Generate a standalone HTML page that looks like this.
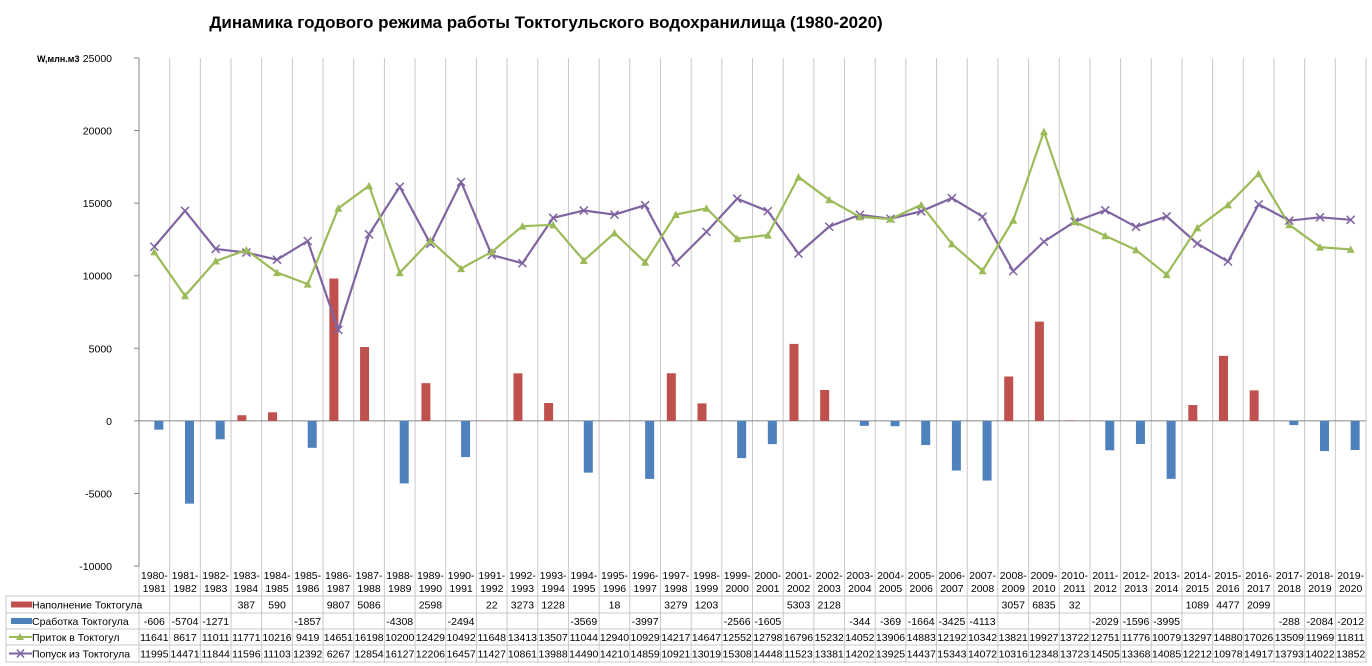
<!DOCTYPE html>
<html><head><meta charset="utf-8"><style>
body{margin:0;background:#fff;}
svg{display:block;font-family:"Liberation Sans",sans-serif;}
</style></head><body>
<svg id="c" width="1372" height="666"></svg>
<script>
const categories=["1980-1981","1981-1982","1982-1983","1983-1984","1984-1985","1985-1986","1986-1987","1987-1988","1988-1989","1989-1990","1990-1991","1991-1992","1992-1993","1993-1994","1994-1995","1995-1996","1996-1997","1997-1998","1998-1999","1999-2000","2000-2001","2001-2002","2002-2003","2003-2004","2004-2005","2005-2006","2006-2007","2007-2008","2008-2009","2009-2010","2010-2011","2011-2012","2012-2013","2013-2014","2014-2015","2015-2016","2016-2017","2017-2018","2018-2019","2019-2020"];
const fillValues=[null,null,null,387,590,null,9807,5086,null,2598,null,22,3273,1228,null,18,null,3279,1203,null,null,5303,2128,null,null,null,null,null,3057,6835,32,null,null,null,1089,4477,2099,null,null,null];
const drawValues=[-606,-5704,-1271,null,null,-1857,null,null,-4308,null,-2494,null,null,null,-3569,null,-3997,null,null,-2566,-1605,null,null,-344,-369,-1664,-3425,-4113,null,null,null,-2029,-1596,-3995,null,null,null,-288,-2084,-2012];
const inflowValues=[11641,8617,11011,11771,10216,9419,14651,16198,10200,12429,10492,11648,13413,13507,11044,12940,10929,14217,14647,12552,12798,16796,15232,14052,13906,14883,12192,10342,13821,19927,13722,12751,11776,10079,13297,14880,17026,13509,11969,11811];
const releaseValues=[11995,14471,11844,11596,11103,12392,6267,12854,16127,12206,16457,11427,10861,13988,14490,14210,14859,10921,13019,15308,14448,11523,13381,14202,13925,14437,15343,14072,10316,12348,13723,14505,13368,14085,12212,10978,14917,13793,14022,13852];
const yTicks=[25000,20000,15000,10000,5000,0,-5000,-10000];

const NS="http://www.w3.org/2000/svg";
const svg=document.getElementById('c');
const L=139,R=1366,T=58,B=566,YMAX=25000,YMIN=-10000;
const cw=(R-L)/categories.length;
const x=i=>L+cw*(i+0.5);
const y=v=>T+(YMAX-v)/(YMAX-YMIN)*(B-T);
function el(t,a,p){const e=document.createElementNS(NS,t);for(const k in a)e.setAttribute(k,a[k]);(p||svg).appendChild(e);return e;}
function tx(s,a){const e=el('text',a);e.textContent=s;return e;}

let t=tx("Динамика годового режима работы Токтогульского  водохранилища  (1980-2020)",{x:546,y:28,'text-anchor':'middle','font-size':17,'font-weight':'bold','xml:space':'preserve'});

t=tx("W,млн.м3",{x:37,y:62,'font-size':9,'font-weight':'bold'});


for(let i=0;i<=categories.length;i++){
  const ln=el('line',{x1:L+cw*i,x2:L+cw*i,y1:T,y2:663,stroke:'#c8c8c8','stroke-width':1});
  
}
const ax=el('line',{x1:L,x2:L,y1:T,y2:B,stroke:'#868686'});

yTicks.forEach(v=>{
  const tk=el('line',{x1:L-5,x2:L,y1:y(v),y2:y(v),stroke:'#868686'});
  
  const lb=tx(String(v),{x:112,y:y(v)+4,'text-anchor':'end','font-size':10.5});
  
});
const z=el('line',{x1:L,x2:R,y1:y(0),y2:y(0),stroke:'#868686'});


const bw=9;
fillValues.forEach((v,i)=>{if(v==null)return;
  const r=el('rect',{x:x(i)-bw,y:Math.min(y(v),y(0)),width:bw,height:Math.abs(y(v)-y(0)),fill:'#C0504D'});
  });
drawValues.forEach((v,i)=>{if(v==null)return;
  const r=el('rect',{x:x(i),y:Math.min(y(v),y(0)),width:bw,height:Math.abs(y(v)-y(0)),fill:'#4F81BD'});
  });

function poly(vals,col,name){
  const p=el('polyline',{points:vals.map((v,i)=>x(i)+','+y(v)).join(' '),fill:'none',stroke:col,'stroke-width':2.2});
  
}
poly(releaseValues,'#8064A2','release-line');
poly(inflowValues,'#9BBB59','inflow-line');
releaseValues.forEach((v,i)=>{
  const g=el('path',{d:`M${x(i)-4},${y(v)-4}L${x(i)+4},${y(v)+4}M${x(i)-4},${y(v)+4}L${x(i)+4},${y(v)-4}`,stroke:'#8064A2','stroke-width':1.5});
  });
inflowValues.forEach((v,i)=>{
  const g=el('path',{d:`M${x(i)-4},${y(v)+3.5}L${x(i)+4},${y(v)+3.5}L${x(i)},${y(v)-4}Z`,fill:'#9BBB59'});
  });

const rows=[596,613,629,645,662];
rows.forEach(yy=>{const l=el('line',{x1:6,x2:R,y1:yy,y2:yy,stroke:'#c8c8c8'});});
const lv=el('line',{x1:6,x2:6,y1:596,y2:662,stroke:'#c8c8c8'});
categories.forEach((c,i)=>{
  const [a,b]=c.split('-');
  let e=tx(a+'-',{x:x(i),y:579,'text-anchor':'middle','font-size':10.5});
  e=tx(b,{x:x(i),y:592,'text-anchor':'middle','font-size':10.5});
});
const series=[["Наполнение Токтогула",fillValues,'#C0504D','bar','legend-fill'],["Сработка Токтогула",drawValues,'#4F81BD','bar','legend-drawdown'],["Приток в Токтогул",inflowValues,'#9BBB59','tri','legend-inflow'],["Попуск из Токтогула",releaseValues,'#8064A2','x','legend-release']];
series.forEach(([name,vals,col,kind,dn],r)=>{
  const cy=(rows[r]+rows[r+1])/2;
  if(kind==='bar'){const k=el('rect',{x:11,y:cy-3,width:21,height:6,fill:col});}
  else{const k=el('line',{x1:9,x2:32,y1:cy,y2:cy,stroke:col,'stroke-width':2});
    const m=kind==='tri'?el('path',{d:`M16,${cy+3}L24,${cy+3}L20,${cy-4}Z`,fill:col}):el('path',{d:`M17,${cy-4}L24,${cy+4}M17,${cy+4}L24,${cy-4}`,stroke:col,'stroke-width':1.5});
    }
  const lt=tx(name,{x:32,y:cy+4,'font-size':10.5});
  vals.forEach((v,i)=>{if(v==null)return;
    const c=tx(String(v),{x:x(i),y:cy+4,'text-anchor':'middle','font-size':10.5});
    });
});
</script>
</body></html>
